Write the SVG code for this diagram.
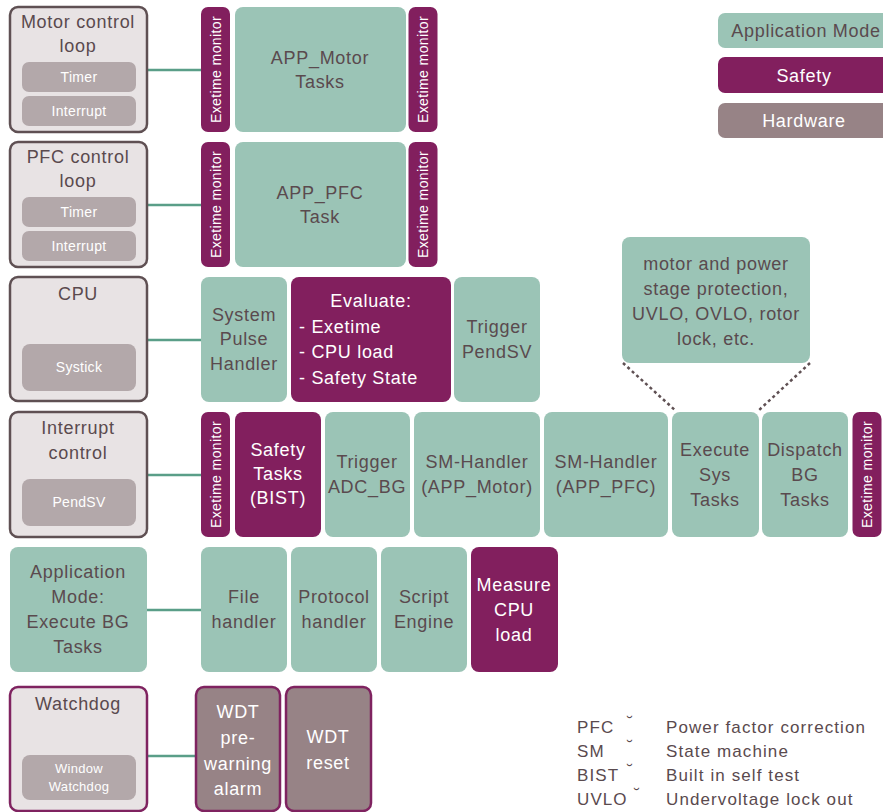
<svg xmlns="http://www.w3.org/2000/svg" width="883" height="812" viewBox="0 0 883 812">
<style>
text{font-family:"Liberation Sans",Arial,sans-serif;text-anchor:middle}
.hw{fill:#e8e3e4;stroke:#5f5053;stroke-width:2.5}
.hwp{fill:#e8e3e4;stroke:#7f2360;stroke-width:2.5}
.in{fill:#b3a8aa}
.app{fill:#9bc4b6}
.saf{fill:#821f5e}
.hd{fill:#978386;stroke:#7f2360;stroke-width:2.5}
.t{fill:#5a4a4e;font-size:18px;letter-spacing:0.7px}
.tw{fill:#ffffff;font-size:18px;letter-spacing:0.7px}
.ts{fill:#ffffff;font-size:14px;letter-spacing:0.3px}
.tm{fill:#ffffff;font-size:14px;letter-spacing:0.4px}
.lg{fill:#5a4a4e;font-size:17px;text-anchor:start;letter-spacing:1.1px}
.conn{stroke:#5a9e88;stroke-width:2.5;fill:none}
.dot{stroke:#5f5053;stroke-width:2.5;stroke-dasharray:3 3;fill:none}
</style>
<defs>
<g id="mon"><rect x="-14.5" y="-62.5" width="29" height="125" rx="7" class="saf"/><text class="tm" transform="rotate(-90)" y="5">Exetime monitor</text></g>
</defs>
<g id="connectors">
<line class="conn" x1="147" y1="70" x2="201" y2="70"/>
<line class="conn" x1="147" y1="205" x2="201" y2="205"/>
<line class="conn" x1="147" y1="340" x2="201" y2="340"/>
<line class="conn" x1="147" y1="475" x2="201" y2="475"/>
<line class="conn" x1="147" y1="610" x2="201" y2="610"/>
<line class="conn" x1="147" y1="756" x2="196" y2="756"/>
<line class="dot" x1="623" y1="363" x2="676" y2="411"/>
<line class="dot" x1="810" y1="363" x2="758" y2="411"/>
</g>
<g id="motor-loop"><rect x="10" y="7" width="137" height="125" rx="8" class="hw"/>
<text class="t" x="78" y="28">Motor control</text><text class="t" x="78" y="52">loop</text>
<rect x="22" y="62" width="114" height="30" rx="7" class="in"/><text class="ts" x="79" y="82">Timer</text>
<rect x="22" y="96" width="114" height="30" rx="7" class="in"/><text class="ts" x="79" y="116">Interrupt</text></g>
<g id="mon1"><use href="#mon" x="215.5" y="69.5"/></g>
<g id="app-motor"><rect x="235" y="7" width="171" height="125" rx="8" class="app"/>
<text class="t" x="320" y="64">APP_Motor</text><text class="t" x="320" y="88">Tasks</text></g>
<g id="mon2"><use href="#mon" x="423" y="69.5"/></g>

<g id="pfc-loop"><rect x="10" y="142" width="137" height="125" rx="8" class="hw"/>
<text class="t" x="78" y="163">PFC control</text><text class="t" x="78" y="187">loop</text>
<rect x="22" y="197" width="114" height="30" rx="7" class="in"/><text class="ts" x="79" y="217">Timer</text>
<rect x="22" y="231" width="114" height="30" rx="7" class="in"/><text class="ts" x="79" y="251">Interrupt</text></g>
<g id="mon3"><use href="#mon" x="215.5" y="204.5"/></g>
<g id="app-pfc"><rect x="235" y="142" width="171" height="125" rx="8" class="app"/>
<text class="t" x="320" y="199">APP_PFC</text><text class="t" x="320" y="223">Task</text></g>
<g id="mon4"><use href="#mon" x="423" y="204.5"/></g>

<g id="cpu"><rect x="10" y="277" width="137" height="124" rx="8" class="hw"/>
<text class="t" x="78" y="300">CPU</text>
<rect x="22" y="344" width="114" height="47" rx="8" class="in"/><text class="ts" x="79" y="372">Systick</text></g>
<g id="pulse"><rect x="201" y="277" width="86" height="125" rx="8" class="app"/>
<text class="t" x="244" y="321">System</text><text class="t" x="244" y="345">Pulse</text><text class="t" x="244" y="370">Handler</text></g>
<g id="evaluate"><rect x="291" y="277" width="160" height="125" rx="8" class="saf"/>
<text class="tw" x="371" y="307">Evaluate:</text>
<text class="tw" x="299" y="333" style="text-anchor:start">- Exetime</text>
<text class="tw" x="299" y="358" style="text-anchor:start">- CPU load</text>
<text class="tw" x="299" y="384" style="text-anchor:start">- Safety State</text></g>
<g id="trigger-pendsv"><rect x="454" y="277" width="86" height="125" rx="8" class="app"/>
<text class="t" x="497" y="333">Trigger</text><text class="t" x="497" y="358">PendSV</text></g>
<g id="protection"><rect x="622" y="237" width="188" height="126" rx="8" class="app"/>
<text class="t" x="716" y="270">motor and power</text><text class="t" x="716" y="295">stage protection,</text>
<text class="t" x="716" y="320">UVLO, OVLO, rotor</text><text class="t" x="716" y="345">lock, etc.</text></g>

<g id="interrupt"><rect x="10" y="412" width="137" height="125" rx="8" class="hw"/>
<text class="t" x="78" y="434">Interrupt</text><text class="t" x="78" y="459">control</text>
<rect x="22" y="479" width="114" height="47" rx="8" class="in"/><text class="ts" x="79" y="507">PendSV</text></g>
<g id="mon5"><use href="#mon" x="215.5" y="474.5"/></g>
<g id="safety-tasks"><rect x="235" y="412" width="86" height="125" rx="8" class="saf"/>
<text class="tw" x="278" y="456">Safety</text><text class="tw" x="278" y="480">Tasks</text><text class="tw" x="278" y="504">(BIST)</text></g>
<g id="trigger-adc"><rect x="325" y="412" width="85" height="125" rx="8" class="app"/>
<text class="t" x="367" y="468">Trigger</text><text class="t" x="367" y="493">ADC_BG</text></g>
<g id="sm-motor"><rect x="414" y="412" width="126" height="125" rx="8" class="app"/>
<text class="t" x="477" y="468">SM-Handler</text><text class="t" x="477" y="493">(APP_Motor)</text></g>
<g id="sm-pfc"><rect x="544" y="412" width="124" height="125" rx="8" class="app"/>
<text class="t" x="606" y="468">SM-Handler</text><text class="t" x="606" y="493">(APP_PFC)</text></g>
<g id="exec-sys"><rect x="672" y="412" width="87" height="125" rx="8" class="app"/>
<text class="t" x="715" y="456">Execute</text><text class="t" x="715" y="481">Sys</text><text class="t" x="715" y="506">Tasks</text></g>
<g id="dispatch"><rect x="762" y="412" width="86" height="125" rx="8" class="app"/>
<text class="t" x="805" y="456">Dispatch</text><text class="t" x="805" y="481">BG</text><text class="t" x="805" y="506">Tasks</text></g>
<g id="mon6"><use href="#mon" x="867" y="474.5"/></g>

<g id="app-mode"><rect x="10" y="547" width="137" height="125" rx="8" class="app"/>
<text class="t" x="78" y="578">Application</text><text class="t" x="78" y="603">Mode:</text>
<text class="t" x="78" y="628">Execute BG</text><text class="t" x="78" y="653">Tasks</text></g>
<g id="file"><rect x="201" y="547" width="86" height="125" rx="8" class="app"/>
<text class="t" x="244" y="603">File</text><text class="t" x="244" y="628">handler</text></g>
<g id="protocol"><rect x="291" y="547" width="86" height="125" rx="8" class="app"/>
<text class="t" x="334" y="603">Protocol</text><text class="t" x="334" y="628">handler</text></g>
<g id="script"><rect x="381" y="547" width="86" height="125" rx="8" class="app"/>
<text class="t" x="424" y="603">Script</text><text class="t" x="424" y="628">Engine</text></g>
<g id="measure"><rect x="471" y="547" width="87" height="125" rx="8" class="saf"/>
<text class="tw" x="514" y="591">Measure</text><text class="tw" x="514" y="616">CPU</text><text class="tw" x="514" y="641">load</text></g>

<g id="watchdog"><rect x="10" y="687" width="137" height="124" rx="8" class="hwp"/>
<text class="t" x="78" y="710">Watchdog</text>
<rect x="22" y="755" width="114" height="45" rx="8" class="in"/>
<text class="ts" x="79" y="773" style="font-size:13px">Window</text><text class="ts" x="79" y="791" style="font-size:13px">Watchdog</text></g>
<g id="wdt-alarm"><rect x="196" y="687" width="84" height="124" rx="8" class="hd"/>
<text class="tw" x="238" y="718">WDT</text><text class="tw" x="238" y="744">pre-</text><text class="tw" x="238" y="770">warning</text><text class="tw" x="238" y="795">alarm</text></g>
<g id="wdt-reset"><rect x="286" y="687" width="85" height="124" rx="8" class="hd"/>
<text class="tw" x="328" y="743">WDT</text><text class="tw" x="328" y="769">reset</text></g>

<g id="legend">
<rect x="718" y="13" width="175" height="35" rx="7" class="app"/><text class="t" x="806" y="37">Application Mode</text>
<rect x="718" y="57" width="175" height="36" rx="7" class="saf"/><text class="tw" x="804" y="82">Safety</text>
<rect x="718" y="103" width="175" height="35" rx="7" fill="#978386"/><text class="tw" x="804" y="127">Hardware</text>
</g>
<g id="abbrev">
<text class="lg" x="577" y="733">PFC</text><text class="lg" x="627" y="728">˘</text><text class="lg" x="666" y="733">Power factor correction</text>
<text class="lg" x="577" y="757">SM</text><text class="lg" x="627" y="752">˘</text><text class="lg" x="666" y="757">State machine</text>
<text class="lg" x="577" y="781">BIST</text><text class="lg" x="627" y="776">˘</text><text class="lg" x="666" y="781">Built in self test</text>
<text class="lg" x="577" y="805">UVLO</text><text class="lg" x="634" y="800">˘</text><text class="lg" x="666" y="805">Undervoltage lock out</text>
</g>
</svg>
